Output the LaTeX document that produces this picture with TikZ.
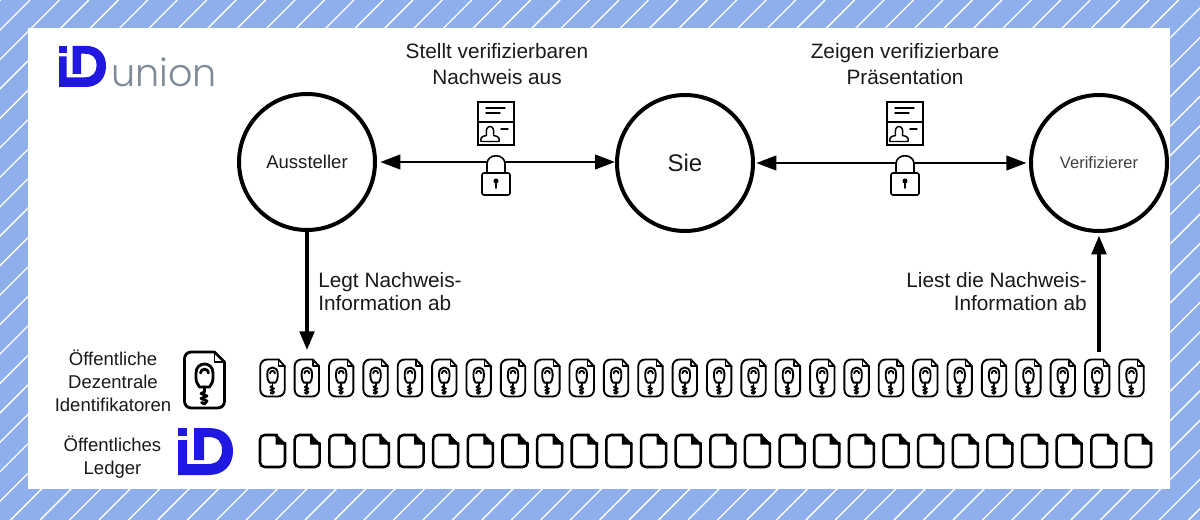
\documentclass[tikz,border=0pt]{standalone}
\usepackage{fontspec}
\setmainfont{Liberation Sans}
\newfontfamily\unionfont{Poppins Light}
\usetikzlibrary{arrows.meta}
\definecolor{bgblue}{HTML}{8FAFEC}
\definecolor{logoblue}{HTML}{2018E0}
\definecolor{logogray}{HTML}{7F8A98}
\definecolor{inktext}{HTML}{1A1A1A}
\tikzset{
  actor/.style={circle,draw=black,line width=3pt,minimum size=102pt,inner sep=0pt,fill=white,text=inktext},
  arr/.style={line width=1.6pt,{Triangle[length=15pt,width=11pt]}-{Triangle[length=15pt,width=11pt]}},
  varr/.style={line width=2.4pt,-{Triangle[length=14pt,width=11pt]}},
  lbl/.style={font=\fontsize{15.6pt}{19.5pt}\selectfont,text=inktext,inner sep=0pt,align=center},
  sidelbl/.style={font=\fontsize{13.9pt}{17.25pt}\selectfont,text=inktext,inner sep=0pt,align=center},
  ink/.style={line width=1.5pt,line cap=round,line join=round},
  stripe/.style={white,line width=1pt}
}
% logo, box 55 x 48 in local units
\newcommand{\idlogo}{%
  \fill[logoblue] (0,1) rectangle (9,9);
  \fill[logoblue]
    (0,13) -- (9,13) -- (9,37) -- (30,37)
    .. controls (40,37) and (44,31) .. (44,23)
    .. controls (44,15) and (40,10) .. (30,10)
    -- (26,10) -- (26,33) -- (16,33) -- (16,1) -- (31,1)
    .. controls (46,1) and (55,10) .. (55,24)
    .. controls (55,38) and (46,48) .. (31,48) -- (0,48) -- cycle;
}
% document with key, box 41 x 56, origin at centre
\newcommand{\keydocshape}[1]{%
  \begin{scope}[ink,line width=#1]
  \draw[rounded corners=5] (10,-28) -- (-20,-28) -- (-20,28) -- (20,28) -- (20,-18);
  \draw (10,-28) -- (20,-18);
  \draw[line width=0.7*#1] (10,-28) -- (10,-18) -- (20,-18);
  \draw (-5,7) .. controls (-7,4) and (-8.5,2) .. (-8.5,-2) -- (-8.5,-7)
     .. controls (-8.5,-19) and (8.5,-19) .. (8.5,-7) -- (8.5,-2)
     .. controls (8.5,2) and (7,4) .. (5,7) -- cycle;
  \draw (-4,-7) .. controls (-4,-12) and (4,-12) .. (4,-7);
  \draw (0,7) -- (0,12);
  \draw (0,12) -- (-3.5,13.5) -- (2.5,16) -- (-3.5,18.5) -- (2.5,21) -- (0,24) -- (-3,22.5);
  \end{scope}
}
% plain document, box 25 x 32, origin at top left
\newcommand{\plaindoc}{%
  \draw[ink,rounded corners=3.5,line width=1.9pt] (17,0) -- (0,0) -- (0,32) -- (25,32) -- (25,8);
  \draw[ink,line width=1.9pt] (15.5,0) -- (25,9.5);
  \fill[black,line join=round] (15.5,0) -- (25,9.5) -- (15.5,9.5) -- cycle;
}
\newcommand{\certicon}{%
  \begin{scope}[ink]
  \draw[line width=1.2pt,line cap=butt,line join=miter] (-18,-29) rectangle (18,14);
  \draw[line width=1.2pt,line cap=butt] (-18,-9) -- (18,-9);
  \draw[line width=1.1pt] (-10,-23) -- (9,-23) (-10,-18) -- (4,-18) (5,-2) -- (12,-2);
  \draw[line width=1.1pt] (-9.5,3) .. controls (-11.5,-7) and (-0.5,-7) .. (-2.5,3) -- (-2.5,4.5)
     .. controls (2,5) and (4,7) .. (3,10.5) -- (-15,10.5) .. controls (-16,7) and (-14,5) .. (-9.5,4.5) -- cycle;
  \end{scope}
}
\newcommand{\lockicon}{%
  \begin{scope}[ink,line width=1.2pt]
  \fill[white] (-9,11) -- (-9,2) .. controls (-9,-9) and (9,-9) .. (9,2) -- (9,11) -- cycle;
  \draw (-9,11) -- (-9,2) .. controls (-9,-9) and (9,-9) .. (9,2) -- (9,11);
  \draw[rounded corners=1.5,fill=white] (-14,11) rectangle (14,33);
  \fill[black] (0,19) circle[radius=1.9pt];
  \draw (0,20) -- (0,26);
  \end{scope}
}
\begin{document}
\begin{tikzpicture}[x=0.75pt,y=-0.75pt]
\useasboundingbox (0,0) rectangle (1200,520);
\fill[bgblue] (0,0) rectangle (1200,520);
\begin{scope}
  \clip (0,0) rectangle (1200,520);
  \foreach \k in {-2,...,60} {
    \pgfmathsetmacro{\sx}{30+29.45*\k}
    \draw[stripe] (\sx,0) -- ({\sx-520},520);
  }
\end{scope}
\fill[white] (28,28) rectangle (1170,489);

% logo
\begin{scope}[shift={(59,45)},xscale=0.855,yscale=0.875]
  \idlogo
\end{scope}
\node[anchor=base west,inner sep=0pt,text=logogray,font=\unionfont\fontsize{28.6pt}{29pt}\selectfont] (union) at (111,87) {union};

% actors
\node[actor,font=\fontsize{13.9pt}{15pt}\selectfont] (aus) at (307,162) {Aussteller};
\node[actor,font=\fontsize{18pt}{20pt}\selectfont] (sie) at (685,163) {Sie};
\node[actor,font=\fontsize{12.4pt}{14pt}\selectfont,text=black!75] (ver) at (1099,163) {Verifizierer};

% horizontal exchanges
\draw[arr,shorten <=2.5pt] (aus.east) -- (sie.west |- aus.east);
\draw[arr,shorten >=2pt,shorten <=1pt] (sie.east) -- (ver.west);

\node[lbl] (l1) at (497,64) {Stellt verifizierbaren\\Nachweis aus};
\node[lbl] (l2) at (905,64) {Zeigen verifizierbare\\Präsentation};

\begin{scope}[shift={(496,131)}] \certicon \end{scope}
\begin{scope}[shift={(496,162)}] \lockicon \end{scope}
\begin{scope}[shift={(905,131)}] \certicon \end{scope}
\begin{scope}[shift={(905,162)}] \lockicon \end{scope}

% public DIDs
\begin{scope}[shift={(204.5,380)}] \keydocshape{2.1pt} \end{scope}
\foreach \i in {1,...,26} {
  \pgfmathsetmacro{\kx}{272.5+34.36*(\i-1)}
  \coordinate (k\i) at (\kx,378);
  \begin{scope}[shift={(\kx,378)},xscale=0.61,yscale=0.66]
    \keydocshape{1.4pt}
  \end{scope}
}
% ledger
\begin{scope}[shift={(178,427)}] \idlogo \end{scope}
\foreach \i in {1,...,26} {
  \pgfmathsetmacro{\lx}{260+34.64*(\i-1)}
  \begin{scope}[shift={(\lx,435)}] \plaindoc \end{scope}
}

% vertical flows
\coordinate (kt2) at (aus.south |- 0,350);
\coordinate (kt25) at (ver.south |- 0,352);
\draw[varr] (aus.south) -- (kt2);
\draw[varr,shorten >=2pt] (kt25) -- (ver.south);

\node[lbl,align=left,anchor=west,font=\fontsize{15.6pt}{17.25pt}\selectfont] (l3) at (318,292) {Legt Nachweis-\\Information ab};
\node[lbl,align=right,anchor=east,font=\fontsize{15.6pt}{17.25pt}\selectfont] (l4) at (1087,292) {Liest die Nachweis-\\Information ab};

\node[sidelbl] (l5) at (113,381) {Öffentliche\\Dezentrale\\Identifikatoren};
\node[sidelbl] (l6) at (112.5,457) {Öffentliches\\Ledger};
\end{tikzpicture}
\end{document}
